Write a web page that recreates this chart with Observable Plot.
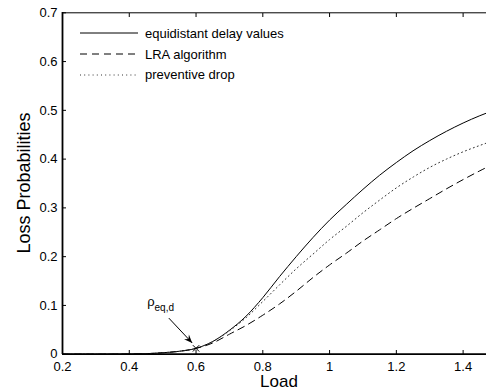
<!DOCTYPE html>
<html>
<head>
<meta charset="utf-8">
<script src="https://cdn.jsdelivr.net/npm/d3@7"></script>
<script src="https://cdn.jsdelivr.net/npm/@observablehq/plot@0.6"></script>
<style>
  html, body { margin: 0; padding: 0; background: #fff; overflow: hidden; }
  #wrap { position: relative; width: 486px; height: 392px; overflow: hidden; font-family: "Liberation Sans", Arial, Helvetica, sans-serif; }
  #legend { position: absolute; left: 80px; top: 23px; font-size: 13px; color: #000; }
  #legend .row { display: flex; align-items: center; height: 20.8px; }
  #legend svg { width: 58px; height: 8px; margin-right: 7px; }
</style>
</head>
<body>
<div id="wrap"><div id="legend"></div></div>
<script>
const load = [0.2, 0.3, 0.4, 0.45, 0.5, 0.55, 0.6, 0.65, 0.7, 0.75, 0.8, 0.85, 0.9, 0.95, 1.0, 1.05, 1.1, 1.15, 1.2, 1.25, 1.3, 1.35, 1.4, 1.45, 1.5];
const equidistant = [0, 0, 0.0003, 0.001, 0.003, 0.006, 0.012, 0.026, 0.049, 0.078, 0.116, 0.159, 0.2, 0.239, 0.275, 0.307, 0.338, 0.367, 0.393, 0.417, 0.438, 0.457, 0.474, 0.489, 0.502];
const lra = [0, 0, 0.0003, 0.001, 0.003, 0.006, 0.012, 0.023, 0.041, 0.059, 0.08, 0.103, 0.129, 0.157, 0.183, 0.207, 0.232, 0.255, 0.278, 0.299, 0.319, 0.339, 0.358, 0.376, 0.393];
const preventive = [0, 0, 0.0003, 0.001, 0.003, 0.006, 0.012, 0.026, 0.048, 0.075, 0.108, 0.142, 0.175, 0.205, 0.235, 0.262, 0.29, 0.316, 0.341, 0.363, 0.383, 0.4, 0.415, 0.428, 0.44];
const seriesNames = ["equidistant delay values", "LRA algorithm", "preventive drop"];
const seriesDash = ["none", "7,5", "1,3.2"];
const seriesColor = ["#000", "#000", "#333"];
const xTicks = [0.2, 0.4, 0.6, 0.8, 1.0, 1.2, 1.4];
const yTicks = [0, 0.1, 0.2, 0.3, 0.4, 0.5, 0.6, 0.7];
const xTitle = "Load";
const yTitle = "Loss Probabilities";
const markPoint = {x: 0.6, y: 0.012};
const annoText = {x: 0.455, y: 0.097};
const arrowPts = {x1: 0.52, y1: 0.073, x2: 0.59, y2: 0.022};

const allSeries = [equidistant, lra, preventive];
const rows = [];
allSeries.forEach((vals, si) => vals.forEach((v, i) => rows.push({load: load[i], p: v, s: seriesNames[si]})));

const fmt = d => String(+d.toFixed(1));
const font = '"Liberation Sans", Arial, Helvetica, sans-serif';

const chart = Plot.plot({
  width: 486, height: 392,
  marginLeft: 62, marginTop: 12, marginBottom: 38, marginRight: 0,
  style: {fontFamily: font, fontSize: "13px", color: "#000", background: "#fff", overflow: "hidden"},
  x: {domain: [0.2, 1.5], range: [62, 496]},
  y: {domain: [0, 0.7], range: [353.7, 12.3]},
  marks: [
    ...seriesNames.map((name, si) => Plot.line(rows.filter(r => r.s === name), {
      x: "load", y: "p", curve: "monotone-x", stroke: seriesColor[si], strokeWidth: 1,
      strokeDasharray: seriesDash[si] === "none" ? undefined : seriesDash[si]
    })),
    Plot.axisX({ticks: xTicks, tickSize: 0, tickPadding: 7, tickFormat: fmt, label: null, fontSize: 13}),
    Plot.axisX({ticks: xTicks, tickSize: -4, tickFormat: () => "", label: null}),
    Plot.axisX({anchor: "top", ticks: xTicks, tickSize: -4, tickFormat: () => "", label: null}),
    Plot.axisY({ticks: yTicks, tickSize: 0, tickPadding: 5, tickFormat: fmt, label: null, fontSize: 13}),
    Plot.axisY({ticks: yTicks, tickSize: -4, tickFormat: () => "", label: null}),
    Plot.ruleY([0], {stroke: "#000", strokeWidth: 1.8}),
    Plot.ruleX([0.2], {stroke: "#000", strokeWidth: 1.8}),
    Plot.ruleY([0.7], {stroke: "#000", strokeWidth: 1}),
    Plot.dot([markPoint], {x: "x", y: "y", symbol: "times", r: 3, stroke: "#000", strokeWidth: 1})
  ]
});

const svg = d3.select(chart);
const sx = chart.scale("x"), sy = chart.scale("y");

// annotation text with subscript
const t = svg.append("text").attr("x", sx.apply(annoText.x)).attr("y", sy.apply(annoText.y))
  .attr("text-anchor", "start").attr("font-family", font).attr("font-size", 13).attr("fill", "#000");
t.append("tspan").text("ρ");
t.append("tspan").attr("dy", 5).attr("font-size", 10).text("eq,d");

// arrow
const ax1 = sx.apply(arrowPts.x1), ay1 = sy.apply(arrowPts.y1), ax2 = sx.apply(arrowPts.x2), ay2 = sy.apply(arrowPts.y2);
svg.append("line").attr("x1", ax1).attr("y1", ay1).attr("x2", ax2).attr("y2", ay2).attr("stroke", "#000").attr("stroke-width", 1);
const ang = Math.atan2(ay2 - ay1, ax2 - ax1), hl = 9, hw = 0.38;
const p1 = [ax2 - hl * Math.cos(ang - hw), ay2 - hl * Math.sin(ang - hw)];
const p2 = [ax2 - hl * Math.cos(ang + hw), ay2 - hl * Math.sin(ang + hw)];
const pm = [ax2 - hl * 0.6 * Math.cos(ang), ay2 - hl * 0.6 * Math.sin(ang)];
svg.append("path").attr("d", `M${ax2},${ay2}L${p1}L${pm}L${p2}Z`).attr("fill", "#000");

// titles
svg.append("text").attr("x", sx.apply(0.85)).attr("y", 387).attr("text-anchor", "middle")
  .attr("font-family", font).attr("font-size", 17).attr("fill", "#000").text(xTitle);
svg.append("text").attr("transform", `translate(30,${sy.apply(0.35)}) rotate(-90)`).attr("text-anchor", "middle")
  .attr("font-family", font).attr("font-size", 18).attr("fill", "#000").text(yTitle);

document.getElementById("wrap").prepend(chart);

// legend
const leg = d3.select("#legend");
seriesNames.forEach((name, si) => {
  const row = leg.append("div").attr("class", "row");
  const s = row.append("svg");
  s.append("line").attr("x1", 0).attr("x2", 58).attr("y1", 4).attr("y2", 4)
    .attr("stroke", seriesColor[si]).attr("stroke-width", 1)
    .attr("stroke-dasharray", seriesDash[si] === "none" ? null : seriesDash[si]);
  row.append("span").text(name);
});
</script>
</body>
</html>
